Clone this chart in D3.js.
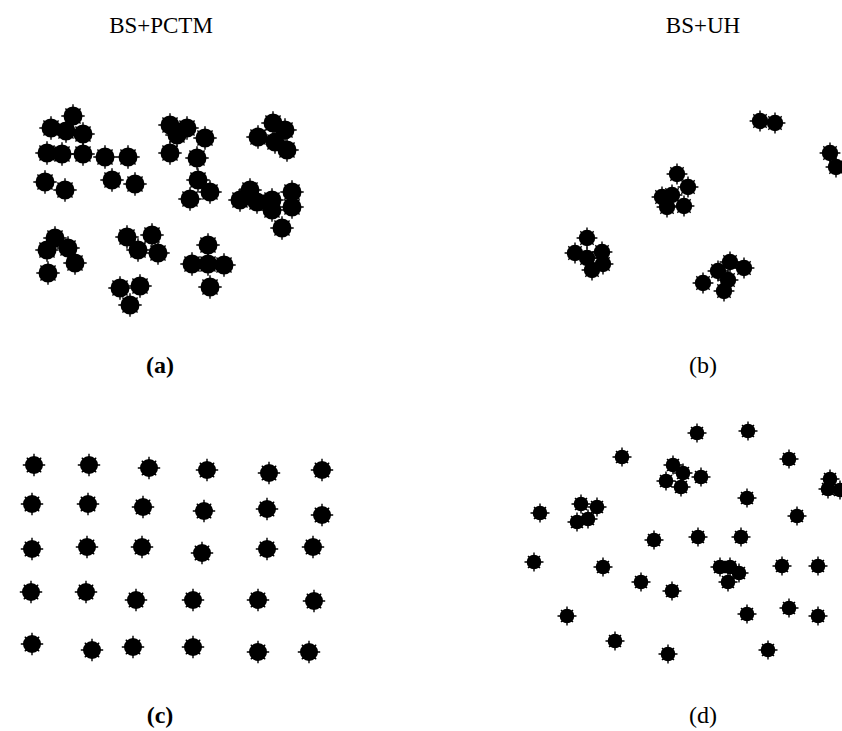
<!DOCTYPE html>
<html>
<head>
<meta charset="utf-8">
<script src="https://cdn.jsdelivr.net/npm/d3@7"></script>
<style>
  html, body { margin: 0; padding: 0; background: #fff; }
  svg { display: block; }
</style>
</head>
<body>
<svg id="chart" width="842" height="731"></svg>
<script>
// Column headings and panel captions
const columnTitles = ["BS+PCTM", "BS+UH"];
const panelLabels = ["(a)", "(b)", "(c)", "(d)"];

// Sensor positions per panel, in panel-local units
const pointsA = [
  [53,21],[31,33],[46,36],[63,39],[27,58],[42,59],[63,59],[85,62],[108,62],
  [25,87],[45,95],[92,85],[115,89],
  [150,30],[167,33],[157,40],[185,43],[150,58],[177,63],[178,85],[190,97],[170,104],
  [253,28],[238,42],[265,35],[255,47],[267,55],
  [220,105],[230,95],[237,107],[252,105],[252,115],[272,97],[272,112],[262,133],
  [35,143],[27,155],[48,153],[55,168],[28,178],
  [107,142],[132,140],[118,155],[138,158],[100,193],[120,191],[110,210],
  [188,150],[172,169],[188,169],[204,170],[190,192]
];
const pointsB = [
  [240,21],[255,23],[310,53],[316,67],
  [157,74],[168,87],[142,97],[152,95],[147,107],[164,106],
  [67,138],[55,153],[82,152],[67,158],[83,164],[72,170],
  [210,162],[224,168],[198,171],[208,180],[183,183],[204,191]
];
const pointsC = [
  [24,25],[79,25],[139,28],[197,30],[259,33],[312,30],
  [22,64],[78,64],[133,67],[194,71],[257,69],[312,75],
  [22,109],[77,107],[132,107],[192,113],[257,109],[303,107],
  [21,152],[76,152],[126,160],[183,160],[248,160],[304,161],
  [22,204],[82,210],[123,207],[183,207],[248,212],[299,212]
];
const pointsD = [
  [182,23],[233,21],[107,47],[158,55],[168,63],[151,71],[166,77],[186,67],
  [274,49],[315,69],[313,79],[325,80],[232,88],[282,106],
  [25,103],[66,94],[82,97],[62,112],[73,109],
  [139,130],[183,127],[226,127],
  [19,152],[88,157],[126,172],[157,181],
  [205,157],[215,157],[224,163],[213,172],[267,156],[303,156],
  [52,206],[232,204],[274,198],[303,206],
  [100,231],[153,244],[253,240]
];

const svg = d3.select("#chart");

// Panel frames: local extent mapped onto the page
const panels = [
  { pts: pointsA, x0: 20,  y0: 95,  w: 300, h: 230, r: 9.5, label: panelLabels[0], bold: true,  lx: 160, ly: 373 },
  { pts: pointsB, x0: 520, y0: 100, w: 330, h: 210, r: 8.2, label: panelLabels[1], bold: false, lx: 703, ly: 373 },
  { pts: pointsC, x0: 10,  y0: 440, w: 330, h: 230, r: 9,   label: panelLabels[2], bold: true,  lx: 160, ly: 723 },
  { pts: pointsD, x0: 515, y0: 410, w: 330, h: 260, r: 7.3, label: panelLabels[3], bold: false, lx: 703, ly: 723 }
];

// Small serrated disc: a filled circle with short spikes around its rim
function spikePath(r) {
  const p = d3.path();
  for (let k = 0; k < 8; k++) {
    const a = k * Math.PI / 4;
    const ext = (k % 2 === 0) ? 2.2 : 1.2;
    p.moveTo(Math.cos(a) * (r - 1), Math.sin(a) * (r - 1));
    p.lineTo(Math.cos(a) * (r + ext), Math.sin(a) * (r + ext));
  }
  return p.toString();
}

panels.forEach(pn => {
  const x = d3.scaleLinear().domain([0, pn.w]).range([pn.x0, pn.x0 + pn.w]);
  const y = d3.scaleLinear().domain([0, pn.h]).range([pn.y0, pn.y0 + pn.h]);
  const g = svg.append("g");
  const dots = g.selectAll("g.dot").data(pn.pts).join("g")
    .attr("class", "dot")
    .attr("transform", d => `translate(${x(d[0])},${y(d[1])})`);
  dots.append("circle").attr("r", pn.r).attr("fill", "#000");
  dots.append("path").attr("d", spikePath(pn.r))
    .attr("stroke", "#000").attr("stroke-width", 1.4).attr("fill", "none");

  svg.append("text")
    .attr("x", pn.lx).attr("y", pn.ly)
    .attr("text-anchor", "middle")
    .attr("font-family", "'Liberation Serif', 'Times New Roman', serif")
    .attr("font-size", 24)
    .attr("font-weight", pn.bold ? "bold" : "normal")
    .attr("fill", "#000")
    .text(pn.label);
});

svg.selectAll("text.title").data(columnTitles).join("text")
  .attr("class", "title")
  .attr("x", (d, i) => i === 0 ? 161 : 703)
  .attr("y", 33)
  .attr("text-anchor", "middle")
  .attr("font-family", "'Liberation Serif', 'Times New Roman', serif")
  .attr("font-size", 23)
  .attr("fill", "#000")
  .text(d => d);
</script>
</body>
</html>
